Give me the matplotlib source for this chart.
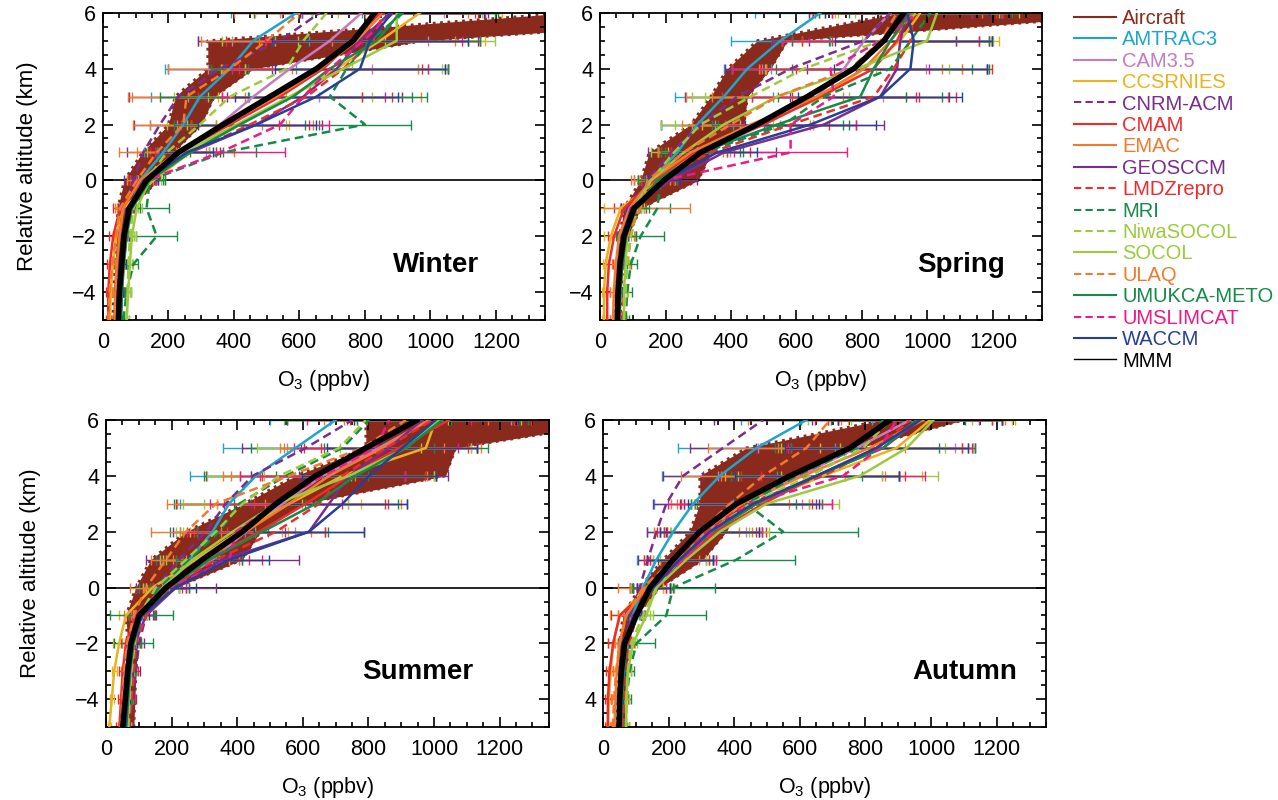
#!/usr/bin/env python3
"""Seasonal O3 profiles around the tropopause: aircraft band vs CCMVal models."""

import matplotlib
matplotlib.use("Agg")
import matplotlib.pyplot as plt
from matplotlib.lines import Line2D
from matplotlib.ticker import MultipleLocator

plt.rcParams["font.family"] = ["Liberation Sans", "DejaVu Sans"]

# relative altitude levels (km), bottom to top
alt = [-5, -4, -3, -2, -1, 0, 1, 2, 3, 4, 5, 6]

models = ["AMTRAC3", "CAM3.5", "CCSRNIES", "CNRM-ACM", "CMAM", "EMAC", "GEOSCCM",
          "LMDZrepro", "MRI", "NiwaSOCOL", "SOCOL", "ULAQ", "UMUKCA-METO",
          "UMSLIMCAT", "WACCM"]

# ---- Winter ----
winter_mmm = [47, 50, 57, 64, 80, 133, 230, 367, 510, 652, 764, 830]
winter_air_lo = [30, 32, 36, 42, 45, 65, 120, 200, 220, 320, 320, 1420]
winter_air_hi = [52, 55, 60, 66, 80, 170, 215, 300, 340, 460, 980, 2200]
winter_o3 = {
    "AMTRAC3":     [55, 57, 62, 70, 85, 113, 184, 245, 296, 388, 459, 591],
    "CAM3.5":      [48, 52, 58, 66, 82, 133, 245, 357, 459, 571, 693, 790],
    "CCSRNIES":    [21, 24, 30, 40, 62, 154, 266, 418, 571, 714, 846, 968],
    "CNRM-ACM":    [40, 42, 45, 50, 62, 93, 123, 174, 230, 357, 540, 662],
    "CMAM":        [16, 16, 21, 31, 52, 123, 235, 388, 541, 673, 764, 846],
    "EMAC":        [36, 38, 42, 50, 62, 113, 225, 367, 530, 663, 775, 856],
    "GEOSCCM":     [50, 53, 58, 66, 80, 123, 266, 469, 612, 714, 785, 877],
    "LMDZrepro":   [52, 57, 62, 72, 82, 133, 266, 449, 622, 734, 825, 856],
    "MRI":         [62, 72, 93, 164, 133, 143, 367, 800, 693, 744, 815, 917],
    "NiwaSOCOL":   [72, 75, 78, 82, 93, 133, 194, 296, 388, 561, 612, 683],
    "SOCOL":       [72, 77, 82, 88, 103, 143, 245, 408, 571, 734, 897, 897],
    "ULAQ":        [16, 20, 28, 40, 52, 103, 164, 245, 255, 388, 500, 601],
    "UMUKCA-METO": [55, 58, 64, 72, 88, 143, 266, 418, 581, 693, 836, 907],
    "UMSLIMCAT":   [45, 48, 55, 62, 78, 133, 357, 541, 612, 693, 795, 887],
    "WACCM":       [50, 53, 60, 68, 82, 133, 255, 469, 652, 785, 815, 882],
}
winter_err = {
    "AMTRAC3":     [8, 8, 10, 12, 15, 30, 60, 100, 150, 200, 170, 200],
    "CAM3.5":      [8, 8, 10, 12, 15, 30, 70, 130, 200, 250, 300, 250],
    "CCSRNIES":    [5, 6, 8, 10, 15, 35, 80, 150, 220, 280, 320, 250],
    "CNRM-ACM":    [8, 8, 10, 12, 15, 30, 50, 80, 150, 160, 250, 200],
    "CMAM":        [8, 8, 10, 12, 20, 40, 90, 150, 250, 300, 387, 300],
    "EMAC":        [10, 10, 12, 15, 20, 40, 175, 275, 440, 300, 300, 260],
    "GEOSCCM":     [8, 8, 10, 12, 15, 35, 90, 200, 300, 340, 360, 300],
    "LMDZrepro":   [8, 8, 10, 12, 15, 35, 80, 180, 260, 320, 326, 280],
    "MRI":         [10, 12, 15, 63, 70, 40, 100, 140, 250, 300, 300, 280],
    "NiwaSOCOL":   [8, 8, 10, 12, 15, 30, 60, 100, 170, 200, 250, 220],
    "SOCOL":       [8, 8, 10, 12, 15, 35, 80, 150, 250, 300, 300, 260],
    "ULAQ":        [5, 6, 8, 10, 15, 30, 60, 100, 180, 188, 200, 200],
    "UMUKCA-METO": [10, 10, 12, 18, 25, 45, 100, 200, 407, 362, 315, 300],
    "UMSLIMCAT":   [8, 8, 10, 12, 15, 30, 198, 150, 250, 300, 300, 280],
    "WACCM":       [8, 8, 10, 12, 15, 35, 80, 180, 250, 260, 300, 280],
}

# ---- Spring ----
spring_mmm = [53, 55, 61, 73, 104, 195, 307, 480, 633, 775, 867, 928]
spring_air_lo = [45, 48, 52, 60, 73, 124, 150, 277, 338, 389, 480, 920]
spring_air_hi = [62, 65, 70, 85, 124, 300, 340, 440, 450, 521, 572, 1700]
spring_o3 = {
    "AMTRAC3":     [58, 60, 65, 73, 94, 155, 236, 297, 378, 450, 551, 673],
    "CAM3.5":      [50, 53, 58, 68, 100, 185, 317, 500, 663, 745, 806, 887],
    "CCSRNIES":    [12, 12, 17, 33, 63, 175, 297, 480, 684, 806, 917, 978],
    "CNRM-ACM":    [48, 50, 55, 63, 83, 145, 216, 307, 419, 582, 806, 887],
    "CMAM":        [22, 22, 27, 43, 73, 165, 287, 500, 673, 836, 907, 948],
    "EMAC":        [40, 42, 48, 58, 90, 155, 277, 460, 663, 806, 887, 958],
    "GEOSCCM":     [55, 58, 62, 70, 94, 216, 378, 684, 856, 907, 917, 938],
    "LMDZrepro":   [68, 73, 83, 94, 114, 175, 338, 582, 836, 897, 948, 958],
    "MRI":         [78, 83, 94, 124, 175, 185, 317, 561, 684, 887, 948, 1009],
    "NiwaSOCOL":   [73, 78, 83, 94, 114, 155, 226, 307, 460, 623, 857, 968],
    "SOCOL":       [73, 73, 78, 83, 104, 155, 256, 378, 541, 785, 999, 1029],
    "ULAQ":        [45, 48, 55, 83, 124, 145, 256, 399, 541, 765, 857, 907],
    "UMUKCA-METO": [58, 62, 68, 80, 110, 175, 307, 541, 795, 836, 887, 948],
    "UMSLIMCAT":   [55, 58, 63, 73, 100, 195, 582, 582, 714, 704, 857, 968],
    "WACCM":       [55, 58, 62, 72, 100, 195, 358, 643, 856, 948, 958, 938],
}
spring_err = {
    "AMTRAC3":     [8, 8, 10, 12, 15, 40, 60, 110, 150, 72, 152, 200],
    "CAM3.5":      [8, 8, 10, 12, 20, 45, 80, 150, 200, 250, 280, 250],
    "CCSRNIES":    [5, 6, 8, 20, 50, 50, 90, 170, 250, 300, 300, 250],
    "CNRM-ACM":    [8, 8, 10, 12, 20, 40, 70, 120, 160, 200, 280, 250],
    "CMAM":        [10, 10, 12, 20, 30, 50, 100, 200, 300, 346, 290, 280],
    "EMAC":        [10, 10, 12, 20, 30, 60, 100, 180, 400, 300, 300, 270],
    "GEOSCCM":     [8, 8, 10, 15, 30, 80, 160, 183, 209, 274, 280, 280],
    "LMDZrepro":   [10, 10, 12, 15, 25, 50, 120, 200, 250, 300, 240, 250],
    "MRI":         [12, 15, 20, 70, 40, 50, 120, 200, 250, 300, 250, 250],
    "NiwaSOCOL":   [8, 8, 10, 12, 20, 40, 70, 120, 180, 220, 300, 250],
    "SOCOL":       [8, 8, 10, 12, 20, 40, 80, 150, 220, 280, 200, 250],
    "ULAQ":        [8, 8, 10, 20, 150, 40, 80, 150, 200, 280, 300, 260],
    "UMUKCA-METO": [10, 12, 15, 30, 40, 60, 120, 200, 250, 300, 300, 280],
    "UMSLIMCAT":   [8, 8, 10, 12, 20, 50, 173, 200, 250, 300, 300, 260],
    "WACCM":       [8, 8, 10, 12, 20, 50, 120, 200, 250, 234, 239, 250],
}

# ---- Summer ----
summer_mmm = [51, 59, 66, 76, 101, 183, 294, 416, 518, 639, 792, 949]
summer_air_lo = [55, 58, 62, 66, 61, 91, 137, 244, 420, 578, 792, 792]
summer_air_hi = [85, 88, 92, 96, 101, 213, 416, 470, 600, 1035, 1066, 1600]
summer_o3 = {
    "AMTRAC3":     [60, 64, 70, 80, 91, 173, 254, 325, 375, 457, 578, 700],
    "CAM3.5":      [60, 64, 70, 80, 100, 193, 325, 426, 538, 660, 832, 985],
    "CCSRNIES":    [10, 18, 25, 40, 61, 142, 274, 406, 558, 721, 975, 1005],
    "CNRM-ACM":    [71, 81, 91, 101, 122, 152, 223, 305, 365, 447, 609, 751],
    "CMAM":        [41, 46, 51, 61, 91, 173, 315, 467, 609, 741, 893, 1045],
    "EMAC":        [50, 55, 62, 72, 100, 183, 305, 426, 558, 680, 842, 985],
    "GEOSCCM":     [62, 68, 75, 88, 122, 213, 355, 619, 680, 741, 863, 964],
    "LMDZrepro":   [70, 78, 85, 91, 122, 193, 335, 518, 650, 721, 853, 995],
    "MRI":         [65, 70, 78, 88, 110, 162, 254, 345, 406, 548, 721, 802],
    "NiwaSOCOL":   [68, 72, 78, 88, 101, 152, 244, 335, 416, 528, 711, 792],
    "SOCOL":       [65, 70, 76, 85, 105, 173, 264, 386, 518, 741, 914, 1015],
    "ULAQ":        [45, 50, 55, 65, 85, 122, 183, 244, 335, 558, 781, 914],
    "UMUKCA-METO": [62, 68, 74, 84, 108, 193, 315, 477, 639, 761, 914, 1025],
    "UMSLIMCAT":   [58, 62, 68, 78, 100, 193, 376, 396, 518, 660, 822, 863],
    "WACCM":       [60, 65, 72, 82, 110, 213, 376, 619, 721, 802, 903, 1005],
}
summer_err = {
    "AMTRAC3":     [8, 8, 10, 12, 20, 50, 80, 100, 150, 200, 220, 200],
    "CAM3.5":      [8, 8, 10, 12, 20, 50, 80, 150, 200, 250, 280, 250],
    "CCSRNIES":    [5, 6, 8, 20, 20, 50, 100, 150, 220, 280, 156, 250],
    "CNRM-ACM":    [10, 10, 12, 15, 20, 40, 60, 100, 150, 142, 193, 200],
    "CMAM":        [10, 10, 12, 15, 25, 60, 100, 200, 250, 264, 238, 250],
    "EMAC":        [10, 10, 12, 15, 25, 60, 100, 200, 340, 300, 300, 260],
    "GEOSCCM":     [10, 10, 12, 15, 30, 122, 234, 167, 238, 300, 268, 280],
    "LMDZrepro":   [10, 10, 12, 15, 25, 60, 100, 150, 200, 250, 250, 250],
    "MRI":         [10, 12, 15, 20, 40, 60, 100, 150, 200, 250, 280, 250],
    "NiwaSOCOL":   [8, 8, 10, 12, 20, 40, 80, 120, 180, 220, 250, 250],
    "SOCOL":       [8, 8, 10, 12, 20, 50, 80, 150, 220, 260, 200, 250],
    "ULAQ":        [8, 8, 10, 15, 30, 50, 46, 107, 150, 200, 250, 250],
    "UMUKCA-METO": [10, 12, 15, 58, 95, 60, 100, 200, 250, 244, 250, 260],
    "UMSLIMCAT":   [8, 8, 10, 12, 20, 50, 100, 150, 200, 250, 250, 250],
    "WACCM":       [8, 8, 10, 12, 20, 60, 120, 167, 197, 203, 228, 250],
}

# ---- Autumn ----
autumn_mmm = [49, 51, 56, 66, 102, 143, 214, 295, 407, 570, 753, 875]
autumn_air_lo = [40, 42, 45, 50, 61, 112, 183, 265, 295, 295, 437, 854]
autumn_air_hi = [65, 68, 72, 78, 102, 173, 305, 376, 420, 580, 780, 1100]
autumn_o3 = {
    "AMTRAC3":     [55, 57, 62, 70, 90, 122, 163, 214, 275, 356, 468, 620],
    "CAM3.5":      [48, 52, 58, 66, 100, 143, 234, 315, 427, 600, 773, 936],
    "CCSRNIES":    [15, 18, 24, 31, 51, 132, 224, 336, 468, 671, 895, 997],
    "CNRM-ACM":    [51, 55, 60, 71, 81, 112, 137, 163, 193, 244, 366, 488],
    "CMAM":        [15, 15, 20, 31, 51, 143, 244, 346, 488, 651, 834, 966],
    "EMAC":        [35, 38, 42, 50, 70, 132, 224, 305, 427, 610, 813, 976],
    "GEOSCCM":     [50, 53, 58, 66, 92, 153, 234, 325, 448, 651, 854, 966],
    "LMDZrepro":   [62, 66, 72, 81, 102, 143, 224, 315, 437, 671, 834, 936],
    "MRI":         [68, 72, 81, 102, 193, 214, 407, 549, 437, 590, 773, 854],
    "NiwaSOCOL":   [70, 72, 76, 85, 122, 163, 234, 325, 448, 631, 793, 875],
    "SOCOL":       [71, 71, 76, 92, 132, 163, 254, 356, 498, 783, 926, 1007],
    "ULAQ":        [30, 34, 40, 51, 71, 122, 214, 295, 387, 488, 620, 692],
    "UMUKCA-METO": [55, 58, 64, 72, 100, 153, 234, 336, 468, 651, 854, 956],
    "UMSLIMCAT":   [48, 52, 58, 66, 95, 153, 244, 336, 448, 732, 844, 895],
    "WACCM":       [50, 53, 58, 66, 95, 153, 234, 325, 458, 651, 834, 966],
}
autumn_err = {
    "AMTRAC3":     [8, 8, 10, 12, 20, 40, 60, 80, 120, 175, 239, 200],
    "CAM3.5":      [8, 8, 10, 12, 20, 40, 80, 120, 180, 250, 300, 250],
    "CCSRNIES":    [5, 6, 8, 15, 30, 50, 90, 150, 200, 300, 234, 250],
    "CNRM-ACM":    [8, 8, 10, 12, 15, 30, 30, 28, 42, 60, 100, 150],
    "CMAM":        [8, 8, 10, 15, 25, 50, 100, 150, 209, 250, 280, 250],
    "EMAC":        [10, 10, 12, 15, 25, 86, 100, 150, 200, 250, 280, 250],
    "GEOSCCM":     [8, 8, 10, 15, 25, 50, 100, 150, 200, 250, 280, 250],
    "LMDZrepro":   [10, 10, 12, 15, 25, 50, 100, 150, 200, 250, 260, 250],
    "MRI":         [10, 12, 15, 56, 122, 127, 178, 229, 150, 200, 250, 250],
    "NiwaSOCOL":   [8, 8, 10, 12, 20, 40, 80, 120, 180, 220, 250, 250],
    "SOCOL":       [8, 8, 10, 12, 20, 45, 80, 150, 220, 239, 203, 250],
    "ULAQ":        [8, 8, 10, 15, 25, 40, 80, 120, 180, 250, 300, 250],
    "UMUKCA-METO": [10, 10, 12, 18, 25, 60, 100, 150, 200, 250, 280, 260],
    "UMSLIMCAT":   [8, 8, 10, 12, 20, 50, 100, 150, 249, 250, 280, 250],
    "WACCM":       [8, 8, 10, 12, 20, 50, 100, 150, 200, 250, 280, 250],
}

# y tick labels as printed in each panel
ytick_vals = [-4, -2, 0, 2, 4, 6]
winter_yt = ["\u22124", "\u22122", "0", "2", "4", "6"]
spring_yt = ["\u22124", "2", "0", "2", "4", "6"]
summer_yt = ["\u22124", "\u22122", "0", "2", "4", "6"]
autumn_yt = ["4", "2", "0", "2", "4", "6"]

AIRCRAFT = "#8a2a1c"
style = {
    "AMTRAC3":     ("#1aa6cf", "-"),
    "CAM3.5":      ("#c57bbf", "-"),
    "CCSRNIES":    ("#eab21c", "-"),
    "CNRM-ACM":    ("#7b2c8c", "--"),
    "CMAM":        ("#ef2b2d", "-"),
    "EMAC":        ("#f27a2c", "-"),
    "GEOSCCM":     ("#7b2c8c", "-"),
    "LMDZrepro":   ("#ef2b2d", "--"),
    "MRI":         ("#168a48", "--"),
    "NiwaSOCOL":   ("#9bcb3c", "--"),
    "SOCOL":       ("#9bcb3c", "-"),
    "ULAQ":        ("#f27a2c", "--"),
    "UMUKCA-METO": ("#168a48", "-"),
    "UMSLIMCAT":   ("#ee1a86", "--"),
    "WACCM":       ("#263f97", "-"),
}

panels = [
    ("Winter", winter_mmm, winter_air_lo, winter_air_hi, winter_o3, winter_err,
     winter_yt, [0.0806, 0.600, 0.3459, 0.384], 0.85, True),
    ("Spring", spring_mmm, spring_air_lo, spring_air_hi, spring_o3, spring_err,
     spring_yt, [0.4695, 0.600, 0.3459, 0.384], 0.915, False),
    ("Summer", summer_mmm, summer_air_lo, summer_air_hi, summer_o3, summer_err,
     summer_yt, [0.0829, 0.091, 0.3466, 0.384], 0.83, True),
    ("Autumn", autumn_mmm, autumn_air_lo, autumn_air_hi, autumn_o3, autumn_err,
     autumn_yt, [0.4718, 0.091, 0.3466, 0.384], 0.935, False),
]

fig = plt.figure(figsize=(12.78, 8), dpi=100)

for name, mmm, lo, hi, o3, err, ytl, pos, tx, left in panels:
    ax = fig.add_axes(pos)

    # aircraft range band with ragged dotted rim
    ax.fill_betweenx(alt, lo, hi, color=AIRCRAFT, lw=0, zorder=1)
    ax.plot(lo, alt, ls=":", color=AIRCRAFT, lw=2, zorder=1)
    ax.plot(hi, alt, ls=":", color=AIRCRAFT, lw=2, zorder=1)

    ax.axhline(0, color="black", lw=1.2, zorder=1.5)

    for m in models:
        c, ls = style[m]
        ax.errorbar(o3[m], alt, xerr=err[m], fmt="none", ecolor=c,
                    elinewidth=1.0, capsize=3.5, capthick=1.0, zorder=2)
    for m in models:
        c, ls = style[m]
        ax.plot(o3[m], alt, color=c, ls=ls, lw=1.8,
                dashes=(3.5, 2) if ls == "--" else (None, None), zorder=3)

    ax.plot(mmm, alt, color="black", lw=4, zorder=4, solid_capstyle="round")

    ax.set_xlim(0, 1350)
    ax.set_ylim(-5, 6)
    ax.xaxis.set_major_locator(MultipleLocator(200))
    ax.xaxis.set_minor_locator(MultipleLocator(50))
    ax.set_yticks(ytick_vals)
    ax.set_yticklabels(ytl)
    ax.yaxis.set_minor_locator(MultipleLocator(0.5))
    ax.tick_params(which="both", direction="in", top=True, right=True,
                   labelsize=15.5, width=1.2)
    ax.tick_params(which="major", length=7)
    ax.tick_params(axis="x", which="major", pad=8.5)
    ax.tick_params(axis="y", which="major", pad=5)
    ax.tick_params(which="minor", length=3.5)
    for s in ax.spines.values():
        s.set_linewidth(1.3)

    ax.set_xlabel("$\\mathregular{O_3}$ (ppbv)", fontsize=15.5, labelpad=11)
    if left:
        ax.set_ylabel("Relative altitude (km)", fontsize=16, labelpad=24)

    ax.text(tx, 0.18, name, transform=ax.transAxes, ha="right", va="center",
            fontsize=20, fontweight="bold", zorder=5)

# legend on the right
handles = [Line2D([], [], color=AIRCRAFT, lw=1.5)]
labels = ["Aircraft"]
for m in models:
    c, ls = style[m]
    handles.append(Line2D([], [], color=c, lw=1.5, ls=ls,
                          dashes=(3.5, 2) if ls == "--" else (None, None)))
    labels.append(m)
handles.append(Line2D([], [], color="black", lw=1.0))
labels.append("MMM")

leg = fig.legend(handles, labels, loc="upper left", bbox_to_anchor=(1066 / 1278, 0.999),
                 frameon=False, fontsize=14.5, handlelength=2.1, handletextpad=0.3,
                 labelspacing=0.12, borderaxespad=0)
for h, t in zip(handles, leg.get_texts()):
    t.set_color(h.get_color())

fig.savefig("out.png", dpi=100)
